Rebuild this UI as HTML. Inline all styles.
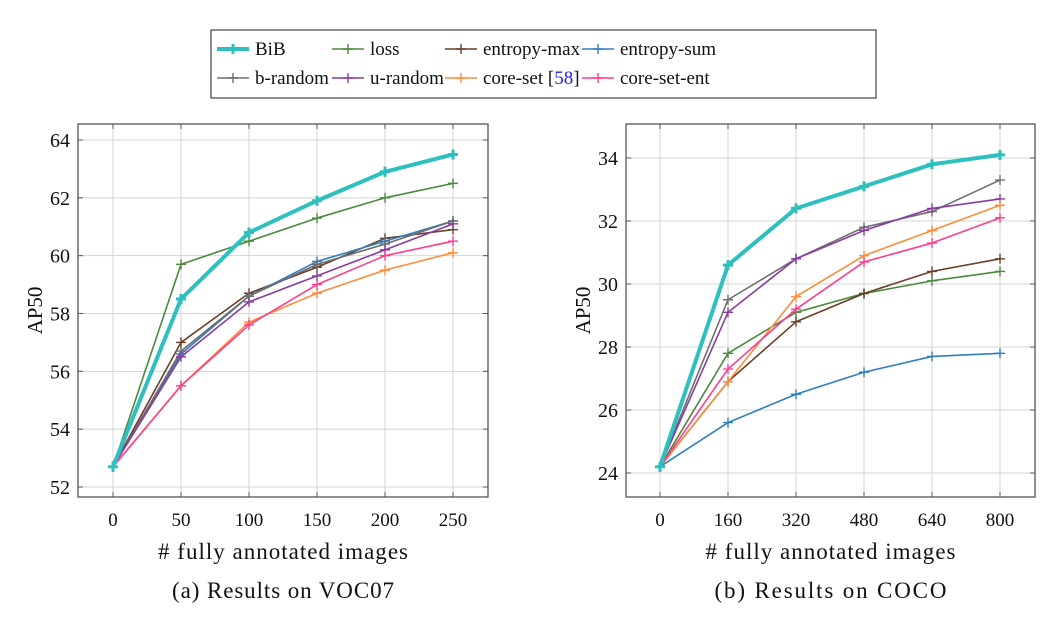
<!DOCTYPE html>
<html><head><meta charset="utf-8"><style>
body{margin:0;background:#fff;width:1064px;height:620px;overflow:hidden}
svg{display:block;font-family:"Liberation Serif",serif}
</style></head><body>
<svg id="svg" width="1064" height="620"></svg>
<script>
const names = ["BiB","loss","entropy-max","entropy-sum","b-random","u-random","core-set","core-set-ent"];
const colors = ["#2ebfbf","#4a8a3c","#6b3f28","#2f7fc1","#6e6e6e","#8a3ca0","#ff8c3a","#ff3d8c"];
const vocX = [0,50,100,150,200,250];
const vocBiB = [52.7,58.5,60.8,61.9,62.9,63.5];
const vocLoss = [52.7,59.7,60.5,61.3,62.0,62.5];
const vocEntMax = [52.7,57.0,58.7,59.6,60.6,60.9];
const vocEntSum = [52.7,56.6,58.6,59.8,60.5,61.2];
const vocBRand = [52.7,56.7,58.6,59.7,60.4,61.2];
const vocURand = [52.7,56.5,58.4,59.3,60.2,61.1];
const vocCore = [52.7,55.5,57.7,58.7,59.5,60.1];
const vocCoreEnt = [52.7,55.5,57.6,59.0,60.0,60.5];
const vocYTicks = [52,54,56,58,60,62,64];
const cocoX = [0,160,320,480,640,800];
const cocoBiB = [24.2,30.6,32.4,33.1,33.8,34.1];
const cocoLoss = [24.2,27.8,29.1,29.7,30.1,30.4];
const cocoEntMax = [24.2,26.9,28.8,29.7,30.4,30.8];
const cocoEntSum = [24.2,25.6,26.5,27.2,27.7,27.8];
const cocoBRand = [24.2,29.5,30.8,31.8,32.3,33.3];
const cocoURand = [24.2,29.1,30.8,31.7,32.4,32.7];
const cocoCore = [24.2,26.9,29.6,30.9,31.7,32.5];
const cocoCoreEnt = [24.2,27.3,29.2,30.7,31.3,32.1];
const cocoYTicks = [24,26,28,30,32,34];

const NS="http://www.w3.org/2000/svg";
const svg=document.getElementById('svg');
function el(tag,attrs,parent){const e=document.createElementNS(NS,tag);for(const k in attrs)e.setAttribute(k,attrs[k]);(parent||svg).appendChild(e);return e;}
function txt(s,x,y,size,anchor,parent){const t=el('text',{x:x,y:y,'font-size':size,'text-anchor':anchor||'middle',fill:'#111'},parent);t.textContent=s;return t;}
function plus(g,x,y,c,s,w){el('path',{d:`M${x-s},${y}H${x+s}M${x},${y-s}V${y+s}`,stroke:c,'stroke-width':w,fill:'none'},g);}

function chart(cfg){
  const g=el('g',{});
  
  
  const {L,T,R,B,x0px,x1px,xmin,xmax,y0px,y1px,ymin,ymax}=cfg;
  const xs=v=>x0px+(v-xmin)/(xmax-xmin)*(x1px-x0px);
  const ys=v=>y0px+(v-ymin)/(ymax-ymin)*(y1px-y0px);
  cfg.xTicks.forEach(v=>{const x=xs(v);
    el('line',{x1:x,y1:T,x2:x,y2:B,stroke:'#d4d4d4','stroke-width':1},g);
    el('line',{x1:x,y1:T,x2:x,y2:T+5,stroke:'#555'},g);el('line',{x1:x,y1:B,x2:x,y2:B-5,stroke:'#555'},g);
    const t=txt(String(v),x,B+29,19,'middle',g);});
  cfg.yTicks.forEach(v=>{const y=ys(v);
    el('line',{x1:L,y1:y,x2:R,y2:y,stroke:'#d4d4d4','stroke-width':1},g);
    el('line',{x1:L,y1:y,x2:L+5,y2:y,stroke:'#555'},g);el('line',{x1:R,y1:y,x2:R-5,y2:y,stroke:'#555'},g);
    const t=txt(String(v),L-8,y+7,20,'end',g);});
  el('rect',{x:L,y:T,width:R-L,height:B-T,fill:'none',stroke:'#555','stroke-width':1.3},g);
  const order=[1,2,3,4,5,6,7,0];
  order.forEach(i=>{
    const vals=cfg.series[i];const c=colors[i];const w=i===0?4:1.6;
    const sg=el('g',{},g);
    
    
    el('polyline',{points:vals.map((v,j)=>xs(cfg.xVals[j])+','+ys(v)).join(' '),fill:'none',stroke:c,'stroke-width':w,'stroke-linejoin':'round'},sg);
    vals.forEach((v,j)=>plus(sg,xs(cfg.xVals[j]),ys(v),c,5,i===0?3:1.4));
  });
  const yl=txt('AP50',0,0,21,'middle',g);
  yl.setAttribute('transform',`translate(${cfg.ylx},${(T+B)/2}) rotate(-90)`);
  
  const xl=txt('# fully annotated images',(L+R)/2,559,23,'middle',g);
  xl.setAttribute('textLength',250);
  
  const cap=txt(cfg.caption,(L+R)/2,598,23,'middle',g);
  cap.setAttribute('textLength',cfg.capLen);
  
}
chart({name:'voc07-chart',L:78,T:124,R:488,B:497,x0px:113,x1px:453,xmin:0,xmax:250,y0px:487,y1px:140,ymin:52,ymax:64,
  xTicks:vocX,xVals:vocX,yTicks:vocYTicks,ylx:42,caption:'(a) Results on VOC07',capLen:222,
  series:[vocBiB,vocLoss,vocEntMax,vocEntSum,vocBRand,vocURand,vocCore,vocCoreEnt]});
chart({name:'coco-chart',L:626,T:124,R:1035,B:497,x0px:660,x1px:1000,xmin:0,xmax:800,y0px:473,y1px:158,ymin:24,ymax:34,
  xTicks:cocoX,xVals:cocoX,yTicks:cocoYTicks,ylx:590,caption:'(b) Results on COCO',capLen:232,
  series:[cocoBiB,cocoLoss,cocoEntMax,cocoEntSum,cocoBRand,cocoURand,cocoCore,cocoCoreEnt]});

// legend
const lg=el('g',{});


el('rect',{x:211,y:30,width:665,height:68,fill:'#fff',stroke:'#444','stroke-width':1.2},lg);
const colX=[217,332,445,582];
const labels=["BiB","loss","entropy-max","entropy-sum","b-random","u-random","core-set [58]","core-set-ent"];
labels.forEach((s,i)=>{
  const cx=colX[i%4],cy=i<4?49:78;
  const e=el('g',{},lg);
  
  
  el('line',{x1:cx,y1:cy,x2:cx+32,y2:cy,stroke:colors[i],'stroke-width':i===0?4:1.6},e);
  plus(e,cx+16,cy,colors[i],5,i===0?3:1.4);
  const t=txt('',cx+38,cy+6,19,'start',e);
  if(i===6){t.textContent='core-set ';const a=document.createElementNS(NS,'tspan');a.textContent='[';t.appendChild(a);
    const b=document.createElementNS(NS,'tspan');b.setAttribute('fill','#2222ee');b.textContent='58';t.appendChild(b);
    const c=document.createElementNS(NS,'tspan');c.textContent=']';t.appendChild(c);}
  else t.textContent=s;
});
</script>
</body></html>
